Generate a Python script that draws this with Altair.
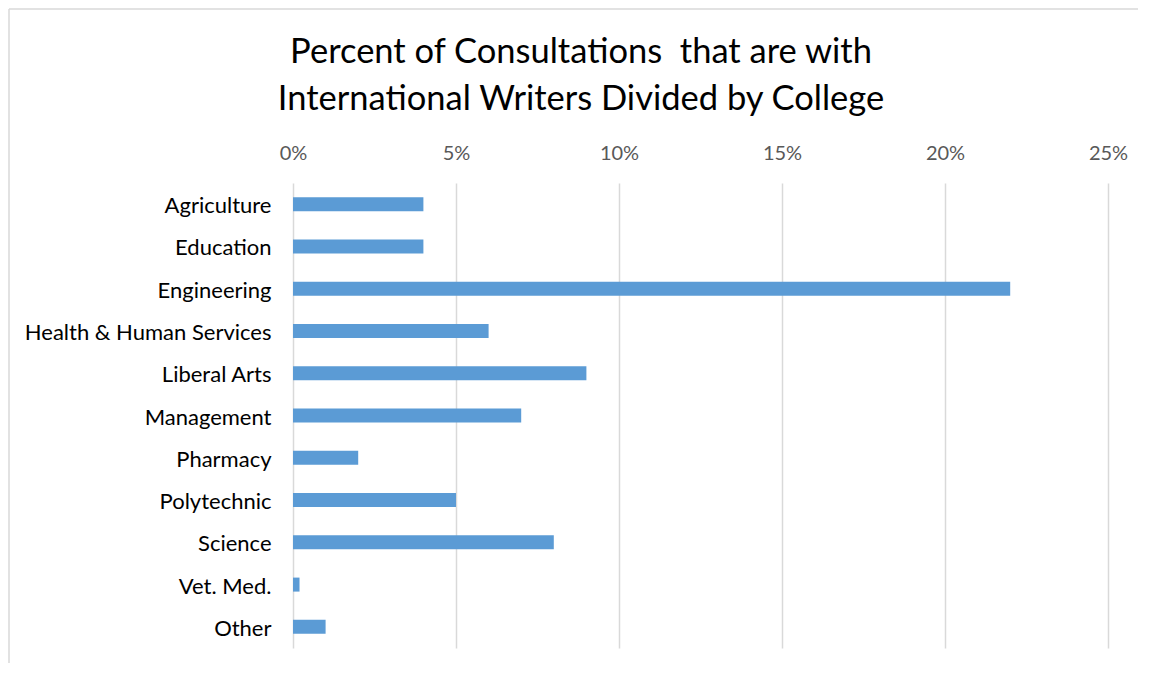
import altair as alt
import pandas as pd

colleges = ["Agriculture", "Education", "Engineering", "Health & Human Services",
            "Liberal Arts", "Management", "Pharmacy", "Polytechnic", "Science",
            "Vet. Med.", "Other"]
shares = [0.04, 0.04, 0.22, 0.06, 0.09, 0.07, 0.02, 0.05, 0.08, 0.002, 0.01]
x_ticks = [0, 0.05, 0.10, 0.15, 0.20, 0.25]

df = pd.DataFrame({"College": colleges, "Share": shares})

bars = alt.Chart(df).mark_bar(color="#5B9BD5", size=14).encode(
    y=alt.Y("College:N", sort=None, title=None,
            axis=alt.Axis(labelFont="Lato", labelFontSize=22, labelColor="#000000",
                          labelPadding=22, labelLimit=400, labelOffset=2,
                          ticks=False, domain=False, grid=False)),
    x=alt.X("Share:Q", title=None,
            scale=alt.Scale(domain=[0, 0.25], nice=False),
            axis=alt.Axis(orient="top", format=".0%", values=x_ticks,
                          labelFont="Lato", labelFontSize=20, labelColor="#595959",
                          labelPadding=20, labelFlush=False, ticks=False, domain=False,
                          grid=True, gridColor="#d9d9d9", gridWidth=1.5)),
)

frame = pd.DataFrame({"k": [0]})
left_border = alt.Chart(frame).mark_rule(color="#d9d9d9", strokeWidth=1.5).encode(
    x=alt.value(-284), y=alt.value(-174), y2=alt.value(480))
top_border = alt.Chart(frame).mark_rule(color="#d9d9d9", strokeWidth=1.5).encode(
    y=alt.value(-174), x=alt.value(-284), x2=alt.value(860))

chart = alt.layer(left_border, top_border, bars).properties(
    width=815, height=465,
    autosize=alt.AutoSizeParams(type="none"),
    padding={"left": 285, "top": 175, "right": 30, "bottom": 15},
    title=alt.TitleParams(
        text=["Percent of Consultations\u00a0 that are with",
              "International Writers Divided by College"],
        font="Lato", fontSize=34.5, fontWeight="normal", color="#000000",
        anchor="middle", frame="bounds", offset=0, dy=109, lineHeight=47),
).configure_view(stroke=None)

chart.save("out.html", embed_options={"renderer": "svg", "actions": False})
